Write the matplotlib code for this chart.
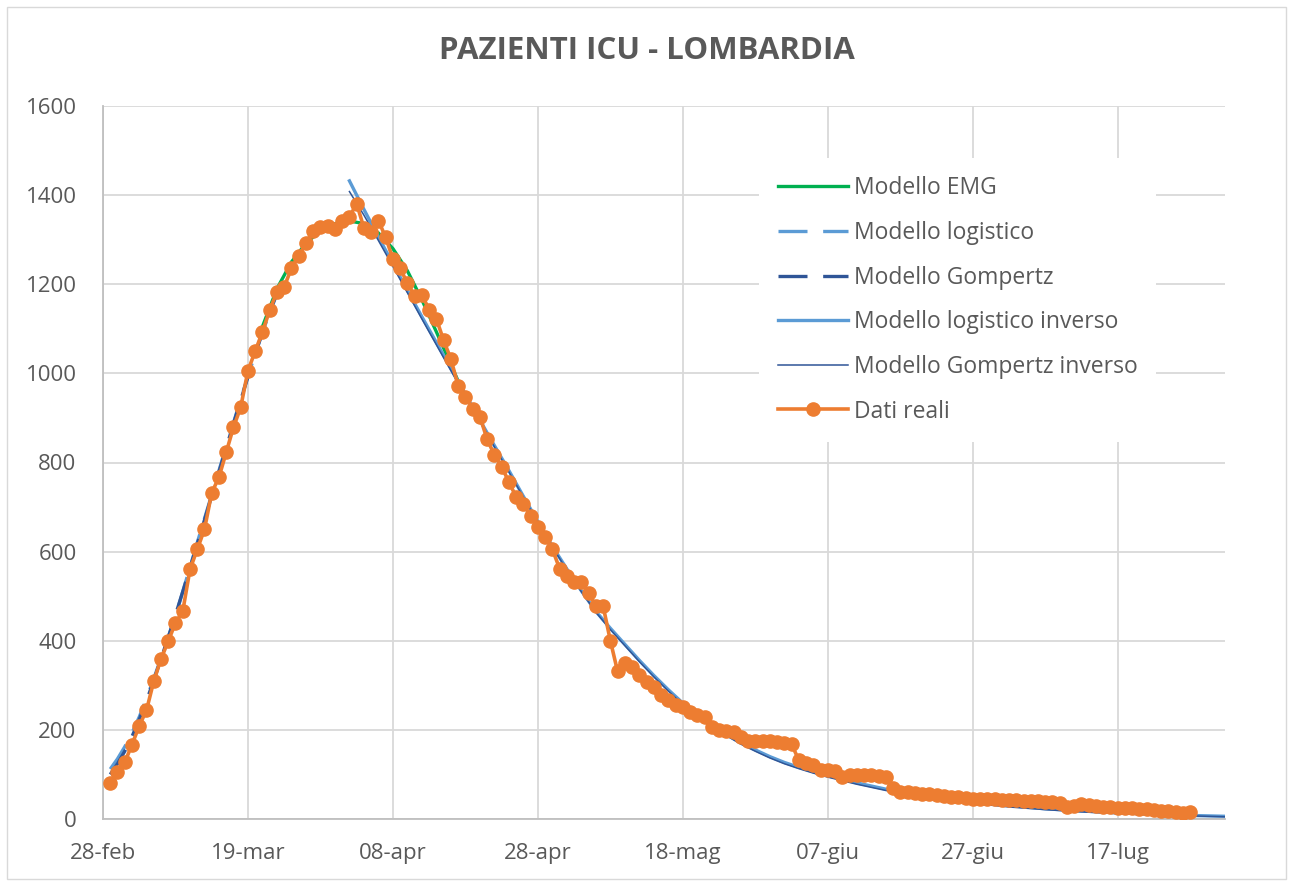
import matplotlib
matplotlib.use("Agg")
import matplotlib.pyplot as plt
from matplotlib.patches import Rectangle

# giorni contati dal 28-feb (giorno 0)
tick_days = [0, 20, 40, 60, 80, 100, 120, 140]
tick_labels = ["28-feb", "19-mar", "08-apr", "28-apr", "18-mag", "07-giu", "27-giu", "17-lug"]
y_ticks = [0, 200, 400, 600, 800, 1000, 1200, 1400, 1600]

# dati reali: dal 29-feb (giorno 1) al 27-lug
icu_feb = [80]
icu_mar = [106, 127, 167, 209, 244, 309, 359, 399, 440, 466, 560, 605, 650, 732, 767, 823,
           879, 924, 1006, 1050, 1093, 1142, 1183, 1194, 1236, 1263, 1292, 1319, 1328, 1330, 1324]
icu_apr = [1342, 1351, 1381, 1326, 1317, 1343, 1305, 1257, 1236, 1202, 1174, 1176, 1143, 1122,
           1074, 1032, 972, 947, 921, 903, 852, 817, 791, 756, 723, 706, 680, 656, 633, 605]
icu_mag = [562, 545, 532, 531, 508, 478, 478, 400, 331, 350, 341, 323, 308, 296, 278, 267,
           256, 252, 240, 233, 229, 207, 200, 197, 196, 183, 175, 175, 175, 174, 172]
icu_giu = [170, 168, 132, 126, 121, 111, 110, 108, 95, 99, 99, 99, 98, 97, 95, 69, 61, 61,
           58, 56, 55, 53, 52, 50, 50, 48, 46, 45, 45, 44]
icu_lug = [43, 43, 42, 41, 41, 40, 39, 38, 36, 28, 30, 33, 32, 30, 28, 26, 25, 25, 24, 23,
           22, 21, 19, 17, 15, 13, 15]
icu = icu_feb + icu_mar + icu_apr + icu_mag + icu_giu + icu_lug
icu_days = list(range(1, len(icu) + 1))

# modelli
emg_days = [22, 24, 26, 28, 30, 32, 34, 36, 38, 40, 42, 44, 46, 48, 50]
emg_vals = [1105, 1190, 1250, 1292, 1320, 1336, 1342, 1336, 1315, 1280, 1230, 1165, 1093, 1020, 945]

rise_days = list(range(1, 25))
logis_vals = [112, 135, 162, 193, 229, 270, 315, 361, 408, 455, 510, 565, 620, 674, 728, 782,
              836, 889, 942, 994, 1044, 1092, 1137, 1178]
gomp_vals = [100, 124, 152, 185, 223, 265, 311, 359, 408, 458, 510, 563, 617, 671, 725, 779,
             833, 887, 940, 992, 1043, 1092, 1138, 1180]

inv_days = [34, 36, 38, 40, 42, 44, 46, 48, 50, 52, 54, 56, 58, 60, 62, 64, 66, 68, 70, 72, 74,
            76, 78, 80, 82, 84, 86, 88, 90, 92, 94, 96, 98, 100, 104, 108, 112, 116, 120, 125,
            130, 135, 140, 145, 150, 155]
logis_inv_vals = [1432, 1368, 1306, 1246, 1186, 1127, 1069, 1011, 953, 895, 838, 782, 724, 667,
                  612, 561, 512, 466, 428, 392, 356, 322, 290, 260, 234, 211, 190, 171, 155, 140,
                  127, 116, 106, 97, 81, 67, 56, 46, 38, 30, 23, 18, 14, 11, 8, 6]
gomp_inv_vals = [1408, 1355, 1298, 1240, 1181, 1122, 1064, 1006, 949, 892, 835, 779, 722, 665,
                 610, 559, 510, 464, 425, 389, 353, 319, 287, 257, 231, 208, 187, 168, 152, 137,
                 124, 113, 103, 94, 78, 64, 53, 43, 35, 27, 21, 16, 12, 9, 7, 5]

TXT = "#595959"
plt.rcParams['font.family'] = ['Open Sans', 'DejaVu Sans']

fig = plt.figure(figsize=(12.93, 8.81), dpi=100)
ax = fig.add_axes([103 / 1293, 1 - 819 / 881, 1122 / 1293, 713 / 881])

dash = (0, (8.7, 4.7))
ax.plot(emg_days, emg_vals, color="#00B050", lw=2.4, label="Modello EMG", zorder=2)
ax.plot(rise_days, logis_vals, color="#5B9BD5", lw=2.4, ls=dash,
        label="Modello logistico", zorder=3)
ax.plot(rise_days, gomp_vals, color="#2F5597", lw=2.4, ls=dash,
        label="Modello Gompertz", zorder=4)
ax.plot(inv_days, logis_inv_vals, color="#5B9BD5", lw=2.4,
        label="Modello logistico inverso", zorder=5)
ax.plot(inv_days, gomp_inv_vals, color="#2F5597", lw=1.1,
        label="Modello Gompertz inverso", zorder=6)
ax.plot(icu_days, icu, color="#ED7D31", lw=2.6, marker="o", ms=9.5,
        label="Dati reali", zorder=7)

ax.set_xlim(0, 154.8)
ax.set_ylim(0, 1600)
ax.set_xticks(tick_days)
ax.set_xticklabels(tick_labels)
ax.set_yticks(y_ticks)
ax.grid(True, color="#D9D9D9", lw=1.3)
ax.set_axisbelow(True)
ax.tick_params(length=0, labelsize=16, colors=TXT)
ax.tick_params(axis="x", pad=17)
ax.tick_params(axis="y", pad=19)
for s in ["top", "right"]:
    ax.spines[s].set_visible(False)
ax.spines["left"].set_color("#BFBFBF")
ax.spines["bottom"].set_color("#BFBFBF")
ax.spines["left"].set_linewidth(1.3)
ax.spines["bottom"].set_linewidth(1.3)

leg = ax.legend(loc="upper left", bbox_to_anchor=(0.585, 0.927), fontsize=16.5,
                frameon=True, facecolor="white", edgecolor="none", framealpha=1,
                fancybox=False, handlelength=3.05, handletextpad=0.26,
                labelspacing=0.9, borderpad=0.8, borderaxespad=0)
for t in leg.get_texts():
    t.set_color(TXT)

fig.text(0.5, 1 - 51 / 881, "PAZIENTI ICU - LOMBARDIA", ha="center", va="center",
         fontsize=22.5, fontweight="bold", color=TXT)

fig.patches.append(Rectangle((7 / 1293, 2 / 881), 1279 / 1293, 872 / 881,
                             transform=fig.transFigure, fill=False,
                             edgecolor="#D9D9D9", lw=1))

fig.savefig("out.png", dpi=100)
